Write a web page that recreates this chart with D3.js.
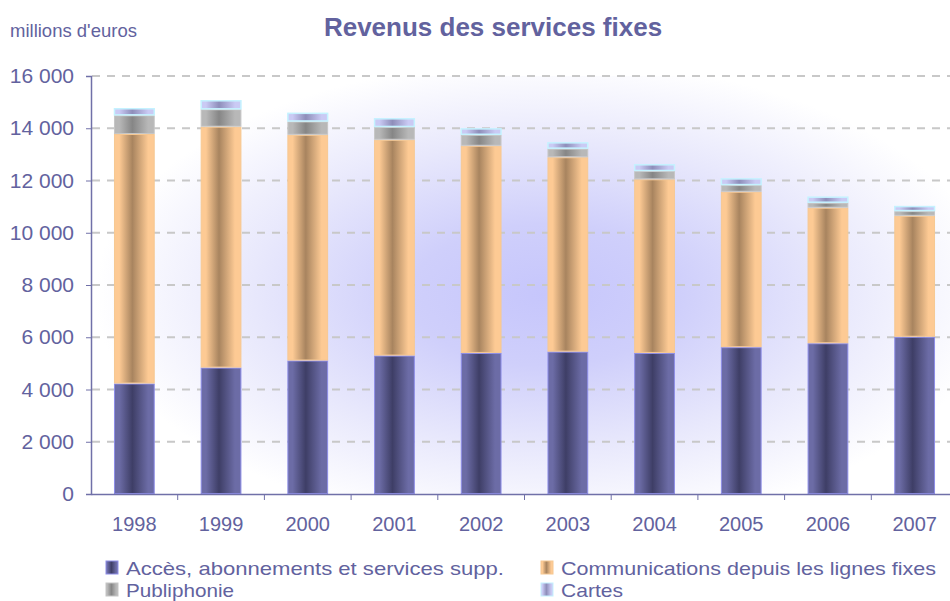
<!DOCTYPE html>
<html>
<head>
<meta charset="utf-8">
<script src="https://cdn.jsdelivr.net/npm/d3@7"></script>
<style>
  body { margin: 0; background: #fff; }
  text { font-family: "Liberation Sans", Arial, sans-serif; fill: #62629e; }
</style>
</head>
<body>
<div class="chart"></div>
<script>
// data (millions d'euros)
var years = ["1998", "1999", "2000", "2001", "2002", "2003", "2004", "2005", "2006", "2007"];
var acces = [4230, 4840, 5110, 5300, 5400, 5450, 5400, 5620, 5770, 6020];
var communications = [9550, 9220, 8640, 8260, 7930, 7440, 6645, 5950, 5190, 4630];
var publiphonie = [715, 665, 510, 490, 420, 330, 320, 255, 190, 180];
var cartes = [270, 345, 330, 330, 245, 240, 255, 255, 230, 190];
var yTicks = [0, 2000, 4000, 6000, 8000, 10000, 12000, 14000, 16000];
var seriesNames = ["Accès, abonnements et services supp.", "Communications depuis les lignes fixes", "Publiphonie", "Cartes"];

var svgWidth = 950, svgHeight = 601;

var svg = d3.select(".chart").append("svg")
  .attr("width", svgWidth)
  .attr("height", svgHeight);

var defs = svg.append("defs");

// colours for each series: edge, middle, stroke
var styles = [
  { light: "#6c6ca6", dark: "#3e3e66", stroke: "#8e8ee8" },
  { light: "#fdca94", dark: "#a8845f", stroke: "#f6c892" },
  { light: "#b8b8b8", dark: "#868686", stroke: "#c6c6c6" },
  { light: "#cacaf4", dark: "#8e8eba", stroke: "#c4f2ff" }
];

styles.forEach(function(s, i) {
  var g = defs.append("linearGradient")
    .attr("id", "grad" + i)
    .attr("x1", "0").attr("x2", "1").attr("y1", "0").attr("y2", "0");
  g.append("stop").attr("offset", "0").attr("stop-color", s.light);
  g.append("stop").attr("offset", "0.12").attr("stop-color", s.light);
  g.append("stop").attr("offset", "0.45").attr("stop-color", s.dark);
  g.append("stop").attr("offset", "0.85").attr("stop-color", s.light);
  g.append("stop").attr("offset", "1").attr("stop-color", s.light);
});

// soft glow behind the plot
var glow = defs.append("radialGradient")
  .attr("id", "glow")
  .attr("gradientUnits", "userSpaceOnUse")
  .attr("cx", 0).attr("cy", 0).attr("r", 1)
  .attr("gradientTransform", "translate(545,295) scale(450,235)");
glow.append("stop").attr("offset", "0").attr("stop-color", "#c6c6fc");
glow.append("stop").attr("offset", "0.3").attr("stop-color", "#cfcffb");
glow.append("stop").attr("offset", "0.65").attr("stop-color", "#e8e8fc");
glow.append("stop").attr("offset", "1").attr("stop-color", "#ffffff");

// scales
var x = d3.scaleBand()
  .domain(years)
  .range([91, 958])
  .paddingInner(0.53)
  .paddingOuter(0.265);

var y = d3.scaleLinear()
  .domain([0, 16000])
  .range([494, 76]);

svg.append("rect")
  .attr("x", 91).attr("y", 76)
  .attr("width", 870).attr("height", 418)
  .attr("fill", "url(#glow)");

// gridlines
svg.append("g")
  .selectAll("line")
  .data(yTicks.slice(1))
  .enter()
  .append("line")
  .attr("x1", 92).attr("x2", 950)
  .attr("y1", d => y(d)).attr("y2", d => y(d))
  .attr("stroke", "#c8c8c8")
  .attr("stroke-width", 2)
  .attr("stroke-dasharray", "8,7");

// stacked bars
var table = years.map(function(yr, i) {
  return { year: yr, a: acces[i], c: communications[i], p: publiphonie[i], k: cartes[i] };
});
var stacked = d3.stack().keys(["a", "c", "p", "k"])(table);

stacked.forEach(function(layer, i) {
  svg.append("g")
    .selectAll("rect")
    .data(layer)
    .enter()
    .append("rect")
    .attr("x", d => x(d.data.year) + 0.5)
    .attr("y", d => y(d[1]) + 0.5)
    .attr("width", x.bandwidth() - 1)
    .attr("height", d => Math.max(0, y(d[0]) - y(d[1]) - 1))
    .attr("fill", "url(#grad" + i + ")")
    .attr("stroke", styles[i].stroke)
    .attr("stroke-width", i == 3 ? 1.5 : 1);
});

// axes
var axisColor = "#7070a8";

var yAxis = d3.axisLeft(y)
  .tickValues(yTicks)
  .tickSize(5)
  .tickPadding(12)
  .tickFormat(d => d3.format(",")(d).replace(/,/g, " "));

var yg = svg.append("g")
  .attr("transform", "translate(91,0)")
  .call(yAxis);
yg.select(".domain").attr("stroke", axisColor).attr("stroke-width", 1.5);
yg.selectAll(".tick line").attr("stroke", axisColor);
yg.selectAll(".tick text")
  .attr("font-size", 21)
  .attr("font-family", "Liberation Sans, Arial, sans-serif")
  .attr("fill", "#62629e");

var xAxis = d3.axisBottom(x).tickSize(0).tickPadding(23);
var xg = svg.append("g")
  .attr("transform", "translate(0,494)")
  .call(xAxis);
xg.select(".domain").attr("stroke", axisColor).attr("stroke-width", 1.5);
xg.selectAll(".tick text")
  .attr("font-size", 20)
  .attr("font-family", "Liberation Sans, Arial, sans-serif")
  .attr("fill", "#62629e");

// small tick marks between categories
svg.append("g")
  .selectAll("line")
  .data(years.slice(1))
  .enter()
  .append("line")
  .attr("x1", d => x(d) - x.step() * x.paddingInner() / 2)
  .attr("x2", d => x(d) - x.step() * x.paddingInner() / 2)
  .attr("y1", 494).attr("y2", 500)
  .attr("stroke", axisColor);

// titles
svg.append("text")
  .attr("x", 493).attr("y", 36)
  .attr("text-anchor", "middle")
  .attr("font-size", 26)
  .attr("font-weight", "bold")
  .text("Revenus des services fixes");

svg.append("text")
  .attr("x", 10).attr("y", 37)
  .attr("font-size", 18.5)
  .text("millions d'euros");

// legend (2 columns, 2 rows)
var legendPos = [[106, 575], [541, 575], [106, 597], [541, 597]];
var legendWidths = [378, 375, 108, 62];
var legend = svg.append("g")
  .selectAll("g")
  .data(seriesNames)
  .enter()
  .append("g")
  .attr("transform", (d, i) => `translate(${legendPos[i][0]}, ${legendPos[i][1]})`);

legend.append("rect")
  .attr("x", 0).attr("y", -14)
  .attr("width", 12).attr("height", 13)
  .attr("fill", (d, i) => "url(#grad" + i + ")")
  .attr("stroke", (d, i) => styles[i].stroke)
  .attr("stroke-width", 1);

legend.append("text")
  .attr("x", 20).attr("y", 0)
  .attr("font-size", 19)
  .attr("textLength", (d, i) => legendWidths[i])
  .attr("lengthAdjust", "spacingAndGlyphs")
  .text(d => d);
</script>
</body>
</html>
